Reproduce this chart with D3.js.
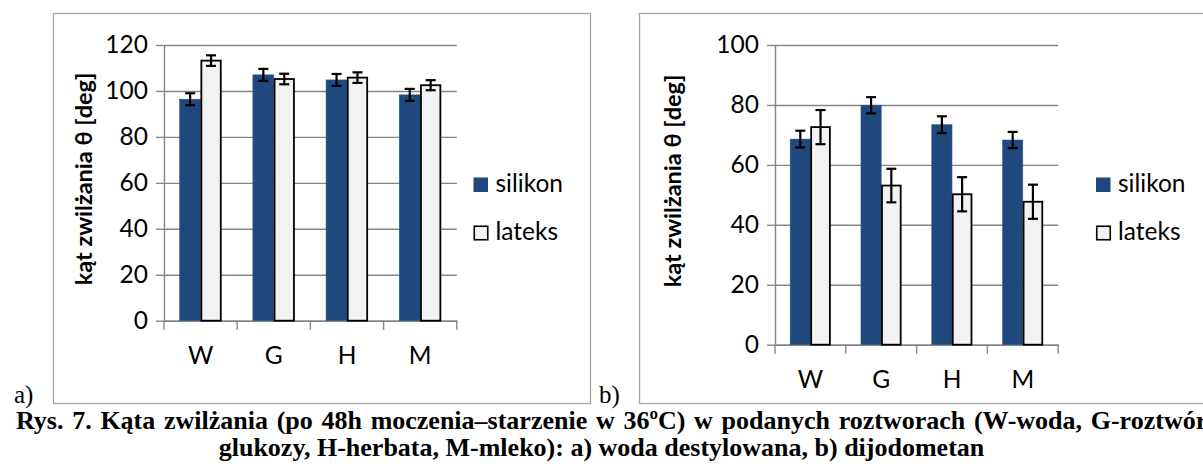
<!DOCTYPE html>
<html>
    <head>
        <meta charset="utf-8">
        <title>Kąt zwilżania</title>
        <script src="https://d3js.org/d3.v7.min.js"></script>
        <style>
            html, body {
                margin: 0;
                padding: 0;
                background: #FFF;
            }
            svg {
                display: block;
            }
            .tick text, .legend text {
                font-family: Lato, sans-serif;
                font-size: 24.5px;
                fill: #000;
            }
            .ytitle {
                font-family: Lato, sans-serif;
                font-weight: bold;
                font-size: 23.5px;
            }
            .caption {
                font-family: "Liberation Serif", "Times New Roman", serif;
                font-weight: bold;
                font-size: 26px;
            }
            .panel {
                font-family: "Liberation Serif", "Times New Roman", serif;
                font-size: 25px;
            }
        </style>
    </head>
    <body>
        <svg id="main" width="1203" height="472"></svg>
        <script>
            const categories = ['W', 'G', 'H', 'M'];
            const seriesNames = ['silikon', 'lateks'];

            // a) woda destylowana
            const silikonA = [96.4, 107.0, 104.8, 98.3];
            const silikonAErr = [2.6, 2.6, 2.6, 2.6];
            const lateksA = [113.2, 105.2, 105.8, 102.5];
            const lateksAErr = [2.3, 2.3, 2.3, 2.2];
            const yTicksA = [0, 20, 40, 60, 80, 100, 120];

            // b) dijodometan
            const silikonB = [68.6, 79.9, 73.4, 68.3];
            const silikonBErr = [2.8, 2.7, 2.8, 2.7];
            const lateksB = [72.6, 53.1, 50.2, 47.7];
            const lateksBErr = [5.7, 5.6, 5.7, 5.7];
            const yTicksB = [0, 20, 40, 60, 80, 100];

            const yTitle = 'kąt zwilżania θ [deg]';
            const captionLine1 = 'Rys. 7. Kąta zwilżania (po 48h moczenia–starzenie w 36ºC) w podanych roztworach (W-woda, G-roztwór';
            const captionLine2 = 'glukozy, H-herbata, M-mleko): a) woda destylowana, b) dijodometan';

            const colors = {silikon: '#1F497D', lateks: '#F2F2F2'};
            const gridColor = '#868686';

            const svg = d3.select('#main');

            function drawChart(opts) {
                const g = svg.append('g');
                const rows = categories.map((c, i) => ({
                    cat: c,
                    values: [
                        {name: 'silikon', v: opts.silikon[i], e: opts.silikonErr[i]},
                        {name: 'lateks', v: opts.lateks[i], e: opts.lateksErr[i]},
                    ],
                }));

                // frame
                g.append('rect')
                    .attr('x', opts.box[0] + 0.5)
                    .attr('y', opts.box[1] + 0.5)
                    .attr('width', opts.box[2])
                    .attr('height', opts.box[3])
                    .attr('fill', 'none')
                    .attr('stroke', '#A6A6A6')
                    .attr('stroke-width', 1.3);

                const x = d3.scaleBand()
                    .domain(categories)
                    .range([opts.left, opts.right]);
                const step = x.step();
                const barW = step / 3.5;
                const xs = d3.scaleBand()
                    .domain(seriesNames)
                    .range([0.75 * barW, step - 0.75 * barW]);
                const y = d3.scaleLinear()
                    .domain([0, opts.yMax])
                    .range([opts.bottom, opts.top]);

                // gridlines + y ticks
                const yAxis = d3.axisLeft(y)
                    .tickValues(opts.yTicks)
                    .tickSize(-(opts.right - opts.left))
                    .tickSizeOuter(0)
                    .tickFormat('');
                g.append('g')
                    .attr('transform', `translate(${opts.left},0)`)
                    .call(yAxis)
                    .call(s => s.select('.domain').remove())
                    .call(s => s.selectAll('line').attr('stroke', gridColor).attr('stroke-width', 1.4));
                g.append('g')
                    .attr('transform', `translate(${opts.left},0)`)
                    .call(d3.axisLeft(y).tickValues(opts.yTicks).tickSize(8).tickPadding(8).tickSizeOuter(0))
                    .call(s => s.select('.domain').attr('stroke', gridColor).attr('stroke-width', 1.4))
                    .call(s => s.selectAll('line').attr('stroke', gridColor).attr('stroke-width', 1.4))
                    .call(s => s.selectAll('text').attr('font-family', null).attr('font-size', null));

                // x axis: labels in bands, ticks between categories
                g.append('g')
                    .attr('transform', `translate(0,${opts.bottom})`)
                    .call(d3.axisBottom(x).tickSize(0).tickPadding(26))
                    .call(s => s.select('.domain').attr('stroke', gridColor).attr('stroke-width', 1.4))
                    .call(s => s.selectAll('text').attr('font-family', null).attr('font-size', null));
                g.append('g')
                    .selectAll('line')
                    .data(categories.map(c => x(c)).concat([opts.right]))
                    .join('line')
                    .attr('x1', d => d)
                    .attr('x2', d => d)
                    .attr('y1', opts.bottom)
                    .attr('y2', opts.bottom + 9)
                    .attr('stroke', gridColor)
                    .attr('stroke-width', 1.4);

                // bars
                const groups = g.append('g')
                    .selectAll('g')
                    .data(rows)
                    .join('g')
                    .attr('transform', d => `translate(${x(d.cat)},0)`);
                groups.selectAll('rect')
                    .data(d => d.values)
                    .join('rect')
                    .attr('x', d => xs(d.name) + (d.name === 'lateks' ? 0.75 : 0))
                    .attr('y', d => y(d.v))
                    .attr('width', d => xs.bandwidth() - (d.name === 'lateks' ? 1.5 : 0))
                    .attr('height', d => y(0) - y(d.v))
                    .attr('fill', d => colors[d.name])
                    .attr('stroke', d => d.name === 'lateks' ? '#000' : '#2E5A8E')
                    .attr('stroke-width', d => d.name === 'lateks' ? 1.8 : 0.6);

                // error bars
                const cap = 5;
                const err = groups.selectAll('g.err')
                    .data(d => d.values)
                    .join('g')
                    .attr('class', 'err')
                    .attr('stroke', '#000')
                    .attr('stroke-width', 2.2);
                err.append('line')
                    .attr('x1', d => xs(d.name) + xs.bandwidth() / 2)
                    .attr('x2', d => xs(d.name) + xs.bandwidth() / 2)
                    .attr('y1', d => y(d.v + d.e))
                    .attr('y2', d => y(d.v - d.e));
                err.selectAll('line.cap')
                    .data(d => [d.v + d.e, d.v - d.e].map(val => ({name: d.name, val})))
                    .join('line')
                    .attr('class', 'cap')
                    .attr('x1', d => xs(d.name) + xs.bandwidth() / 2 - cap)
                    .attr('x2', d => xs(d.name) + xs.bandwidth() / 2 + cap)
                    .attr('y1', d => y(d.val))
                    .attr('y2', d => y(d.val));

                // y title
                g.append('text')
                    .attr('class', 'ytitle')
                    .attr('transform', `translate(${opts.titleX},${opts.titleY}) rotate(-90)`)
                    .attr('text-anchor', 'middle')
                    .attr('dominant-baseline', 'central')
                    .text(yTitle);

                // legend
                const legend = g.append('g')
                    .attr('class', 'legend')
                    .selectAll('g')
                    .data(seriesNames)
                    .join('g')
                    .attr('transform', (d, i) => `translate(${opts.legendX},${177.5 + i * 48})`);
                legend.append('rect')
                    .attr('x', d => d === 'lateks' ? 0.75 : 0)
                    .attr('y', d => d === 'lateks' ? 0.75 : 0)
                    .attr('width', d => d === 'lateks' ? 13.5 : 14.5)
                    .attr('height', d => d === 'lateks' ? 13.5 : 14.5)
                    .attr('fill', d => colors[d])
                    .attr('stroke', d => d === 'lateks' ? '#000' : 'none')
                    .attr('stroke-width', 1.6);
                legend.append('text')
                    .attr('x', 22)
                    .attr('y', 14.5)
                    .text(d => d);

                // panel letter
                svg.append('text')
                    .attr('class', 'panel')
                    .attr('x', opts.panelX)
                    .attr('y', 403)
                    .text(opts.panel);
            }

            drawChart({
                silikon: silikonA, silikonErr: silikonAErr,
                lateks: lateksA, lateksErr: lateksAErr,
                yTicks: yTicksA, yMax: 120,
                left: 164, right: 456.8, top: 45, bottom: 320.7,
                box: [53, 13, 537, 390],
                titleX: 83, titleY: 179,
                legendX: 473.5,
                panel: 'a)', panelX: 14,
            });

            drawChart({
                silikon: silikonB, silikonErr: silikonBErr,
                lateks: lateksB, lateksErr: lateksBErr,
                yTicks: yTicksB, yMax: 100,
                left: 775, right: 1058.2, top: 45, bottom: 344.7,
                box: [639, 13, 580, 390],
                titleX: 672, titleY: 181,
                legendX: 1096,
                panel: 'b)', panelX: 599,
            });

            // first caption line is justified in the source, so spaces are wider
            svg.append('text')
                .attr('class', 'caption')
                .attr('x', 16)
                .attr('y', 429)
                .attr('word-spacing', 2.2)
                .text(captionLine1);
            svg.append('text')
                .attr('class', 'caption')
                .attr('x', 601.5)
                .attr('y', 456)
                .attr('text-anchor', 'middle')
                .text(captionLine2);
        </script>
    </body>
</html>
